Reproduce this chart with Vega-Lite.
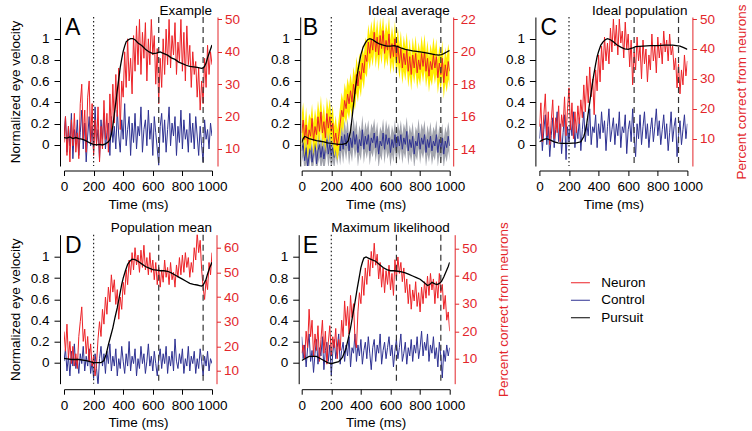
{
"$schema": "https://vega.github.io/schema/vega-lite/v6.json",
"padding": {"left": 8, "top": 3, "right": 0, "bottom": 0},
"config": {
  "font": "Liberation Sans",
  "view": {"stroke": null},
  "axis": {"labelFont": "Liberation Sans", "labelFontSize": 13.5, "titleFont": "Liberation Sans", "titleFontSize": 13.5, "titleFontWeight": "normal", "grid": false, "domainColor": "#000", "tickColor": "#000", "labelColor": "#000", "titleColor": "#000", "labelFlush": false, "labelOverlap": false, "tickCount": 20},
  "axisX": {"tickSize": 5, "labelPadding": 4, "titlePadding": 4, "labelOverlap": false},
  "axisY": {"labelOverlap": false},
  "legend": {"orient": "none", "legendX": 509.7, "legendY": 259, "symbolType": "M-2,0H2", "symbolSize": 90, "symbolStrokeWidth": 1, "labelFont": "Liberation Sans", "labelFontSize": 13.5, "labelColor": "#000", "labelOffset": 14, "rowPadding": 2.5, "padding": 0}
},
"datasets": {
"noisy": [
{"p":"A","t":0,"n":12,"c":14},{"p":"A","t":10,"n":20,"c":20},{"p":"A","t":20,"n":8,"c":9},{"p":"A","t":30,"n":17,"c":17},{"p":"A","t":40,"n":6,"c":11},{"p":"A","t":50,"n":19,"c":21},{"p":"A","t":60,"n":11,"c":7},{"p":"A","t":70,"n":21,"c":16},{"p":"A","t":80,"n":9,"c":12},{"p":"A","t":90,"n":15,"c":19},
{"p":"A","t":100,"n":7,"c":8},{"p":"A","t":110,"n":24,"c":15},{"p":"A","t":120,"n":30,"c":22},{"p":"A","t":130,"n":13,"c":10},{"p":"A","t":140,"n":22,"c":18},{"p":"A","t":150,"n":9,"c":6},{"p":"A","t":160,"n":26,"c":14},{"p":"A","t":170,"n":31,"c":20},{"p":"A","t":180,"n":12,"c":11},{"p":"A","t":190,"n":24,"c":17},
{"p":"A","t":200,"n":8,"c":9},{"p":"A","t":210,"n":19,"c":23},{"p":"A","t":220,"n":11,"c":12},{"p":"A","t":230,"n":23,"c":16},{"p":"A","t":240,"n":6,"c":7},{"p":"A","t":250,"n":17,"c":19},{"p":"A","t":260,"n":10,"c":13},{"p":"A","t":270,"n":25,"c":21},{"p":"A","t":280,"n":13,"c":10},{"p":"A","t":290,"n":21,"c":15},
{"p":"A","t":300,"n":9,"c":18},{"p":"A","t":310,"n":27,"c":8},{"p":"A","t":320,"n":15,"c":20},{"p":"A","t":330,"n":30,"c":12},{"p":"A","t":340,"n":18,"c":17},{"p":"A","t":350,"n":33,"c":10},{"p":"A","t":360,"n":20,"c":22},{"p":"A","t":370,"n":35,"c":14},{"p":"A","t":380,"n":16,"c":9},{"p":"A","t":390,"n":31,"c":19},
{"p":"A","t":400,"n":26,"c":13},{"p":"A","t":410,"n":40,"c":24},{"p":"A","t":420,"n":29,"c":11},{"p":"A","t":430,"n":44,"c":16},{"p":"A","t":440,"n":31,"c":20},{"p":"A","t":450,"n":38,"c":8},{"p":"A","t":460,"n":27,"c":18},{"p":"A","t":470,"n":45,"c":12},{"p":"A","t":480,"n":34,"c":21},{"p":"A","t":490,"n":48,"c":10},
{"p":"A","t":500,"n":36,"c":17},{"p":"A","t":510,"n":50,"c":14},{"p":"A","t":520,"n":33,"c":23},{"p":"A","t":530,"n":46,"c":9},{"p":"A","t":540,"n":38,"c":16},{"p":"A","t":550,"n":49,"c":19},{"p":"A","t":560,"n":31,"c":11},{"p":"A","t":570,"n":44,"c":22},{"p":"A","t":580,"n":36,"c":13},{"p":"A","t":590,"n":50,"c":18},
{"p":"A","t":600,"n":39,"c":8},{"p":"A","t":610,"n":45,"c":20},{"p":"A","t":620,"n":30,"c":15},{"p":"A","t":630,"n":41,"c":10},{"p":"A","t":640,"n":24,"c":5},{"p":"A","t":650,"n":38,"c":17},{"p":"A","t":660,"n":29,"c":21},{"p":"A","t":670,"n":44,"c":12},{"p":"A","t":680,"n":33,"c":19},{"p":"A","t":690,"n":47,"c":9},
{"p":"A","t":700,"n":36,"c":16},{"p":"A","t":710,"n":50,"c":23},{"p":"A","t":720,"n":35,"c":11},{"p":"A","t":730,"n":45,"c":18},{"p":"A","t":740,"n":39,"c":14},{"p":"A","t":750,"n":49,"c":20},{"p":"A","t":760,"n":33,"c":8},{"p":"A","t":770,"n":43,"c":17},{"p":"A","t":780,"n":37,"c":12},{"p":"A","t":790,"n":50,"c":22},
{"p":"A","t":800,"n":34,"c":10},{"p":"A","t":810,"n":46,"c":19},{"p":"A","t":820,"n":31,"c":13},{"p":"A","t":830,"n":48,"c":16},{"p":"A","t":840,"n":36,"c":9},{"p":"A","t":850,"n":42,"c":21},{"p":"A","t":860,"n":29,"c":12},{"p":"A","t":870,"n":40,"c":18},{"p":"A","t":880,"n":33,"c":10},{"p":"A","t":890,"n":37,"c":20},
{"p":"A","t":900,"n":26,"c":14},{"p":"A","t":910,"n":35,"c":8},{"p":"A","t":920,"n":22,"c":17},{"p":"A","t":930,"n":31,"c":11},{"p":"A","t":940,"n":24,"c":6},{"p":"A","t":950,"n":38,"c":19},{"p":"A","t":960,"n":29,"c":13},{"p":"A","t":970,"n":42,"c":16},{"p":"A","t":980,"n":33,"c":10},{"p":"A","t":990,"n":40,"c":18},{"p":"A","t":1000,"n":36,"c":14},

{"p":"B","t":0,"n":15.0,"yl":14.0,"yh":16.1,"c":13.9,"gl":13.1,"gh":14.7},{"p":"B","t":10,"n":15.8,"yl":14.9,"yh":16.9,"c":14.4,"gl":13.6,"gh":15.2},{"p":"B","t":20,"n":14.6,"yl":13.5,"yh":15.5,"c":13.3,"gl":12.4,"gh":14.1},{"p":"B","t":30,"n":15.5,"yl":14.6,"yh":16.6,"c":14.1,"gl":13.2,"gh":14.9},{"p":"B","t":40,"n":14.3,"yl":13.4,"yh":15.3,"c":12.9,"gl":12.0,"gh":13.8},{"p":"B","t":50,"n":15.2,"yl":14.1,"yh":16.2,"c":13.6,"gl":12.8,"gh":14.5},{"p":"B","t":60,"n":14.8,"yl":13.9,"yh":15.9,"c":14.3,"gl":13.5,"gh":15.1},{"p":"B","t":70,"n":15.9,"yl":14.8,"yh":16.8,"c":13.2,"gl":12.3,"gh":14.0},{"p":"B","t":80,"n":14.5,"yl":13.6,"yh":15.6,"c":13.8,"gl":13.0,"gh":14.7},{"p":"B","t":90,"n":15.4,"yl":14.4,"yh":16.5,"c":14.5,"gl":13.7,"gh":15.3},
{"p":"B","t":100,"n":14.9,"yl":13.9,"yh":15.8,"c":13.1,"gl":12.2,"gh":13.9},{"p":"B","t":110,"n":16.0,"yl":15.0,"yh":17.0,"c":13.9,"gl":13.1,"gh":14.8},{"p":"B","t":120,"n":15.1,"yl":14.2,"yh":16.2,"c":14.3,"gl":13.5,"gh":15.2},{"p":"B","t":130,"n":16.3,"yl":15.3,"yh":17.3,"c":13.5,"gl":12.6,"gh":14.3},{"p":"B","t":140,"n":15.0,"yl":14.1,"yh":16.0,"c":14.2,"gl":13.3,"gh":15.0},{"p":"B","t":150,"n":15.7,"yl":14.7,"yh":16.8,"c":13.4,"gl":12.5,"gh":14.3},{"p":"B","t":160,"n":14.7,"yl":13.8,"yh":15.7,"c":14.0,"gl":13.2,"gh":14.9},{"p":"B","t":170,"n":16.2,"yl":15.1,"yh":17.2,"c":14.6,"gl":13.8,"gh":15.4},{"p":"B","t":180,"n":15.3,"yl":14.4,"yh":16.4,"c":13.7,"gl":12.8,"gh":14.5},{"p":"B","t":190,"n":16.0,"yl":15.0,"yh":17.1,"c":14.3,"gl":13.5,"gh":15.2},
{"p":"B","t":200,"n":15.1,"yl":14.1,"yh":16.1,"c":13.6,"gl":12.7,"gh":14.4},{"p":"B","t":210,"n":15.6,"yl":14.6,"yh":16.7,"c":14.1,"gl":13.3,"gh":15.0},{"p":"B","t":220,"n":14.4,"yl":13.5,"yh":15.4,"c":13.5,"gl":12.7,"gh":14.4},{"p":"B","t":230,"n":15.0,"yl":14.0,"yh":16.1,"c":14.4,"gl":13.6,"gh":15.3},{"p":"B","t":240,"n":14.2,"yl":13.3,"yh":15.2,"c":13.8,"gl":13.0,"gh":14.7},{"p":"B","t":250,"n":14.8,"yl":13.8,"yh":15.9,"c":14.6,"gl":13.7,"gh":15.5},{"p":"B","t":260,"n":15.6,"yl":14.6,"yh":16.7,"c":13.9,"gl":13.0,"gh":14.8},{"p":"B","t":270,"n":16.4,"yl":15.4,"yh":17.5,"c":14.8,"gl":13.9,"gh":15.7},{"p":"B","t":280,"n":16.0,"yl":15.0,"yh":17.0,"c":14.0,"gl":13.1,"gh":14.9},{"p":"B","t":290,"n":17.0,"yl":16.0,"yh":18.1,"c":14.9,"gl":14.0,"gh":15.8},
{"p":"B","t":300,"n":16.5,"yl":15.5,"yh":17.6,"c":14.2,"gl":13.3,"gh":15.1},{"p":"B","t":310,"n":17.4,"yl":16.3,"yh":18.4,"c":15.0,"gl":14.1,"gh":15.9},{"p":"B","t":320,"n":16.8,"yl":15.8,"yh":17.9,"c":13.9,"gl":13.0,"gh":14.8},{"p":"B","t":330,"n":17.6,"yl":16.6,"yh":18.7,"c":14.7,"gl":13.8,"gh":15.6},{"p":"B","t":340,"n":16.9,"yl":15.9,"yh":18.0,"c":14.1,"gl":13.2,"gh":15.0},{"p":"B","t":350,"n":18.0,"yl":16.9,"yh":19.1,"c":15.1,"gl":14.2,"gh":16.0},{"p":"B","t":360,"n":17.4,"yl":16.4,"yh":18.5,"c":14.3,"gl":13.4,"gh":15.2},{"p":"B","t":370,"n":18.6,"yl":17.5,"yh":19.7,"c":14.9,"gl":14.0,"gh":15.8},{"p":"B","t":380,"n":17.9,"yl":16.9,"yh":19.0,"c":13.8,"gl":12.9,"gh":14.7},{"p":"B","t":390,"n":18.8,"yl":17.8,"yh":19.9,"c":14.6,"gl":13.7,"gh":15.5},
{"p":"B","t":400,"n":18.3,"yl":17.2,"yh":19.4,"c":14.2,"gl":13.3,"gh":15.1},{"p":"B","t":410,"n":19.3,"yl":18.3,"yh":20.4,"c":15.2,"gl":14.3,"gh":16.1},{"p":"B","t":420,"n":18.7,"yl":17.7,"yh":19.8,"c":14.0,"gl":13.1,"gh":14.9},{"p":"B","t":430,"n":19.8,"yl":18.7,"yh":20.9,"c":14.8,"gl":13.9,"gh":15.7},{"p":"B","t":440,"n":19.4,"yl":18.4,"yh":20.5,"c":14.3,"gl":13.4,"gh":15.2},{"p":"B","t":450,"n":20.6,"yl":19.5,"yh":21.7,"c":14.9,"gl":14.0,"gh":15.8},{"p":"B","t":460,"n":19.9,"yl":18.9,"yh":21.0,"c":13.9,"gl":13.0,"gh":14.8},{"p":"B","t":470,"n":20.8,"yl":19.7,"yh":21.9,"c":14.7,"gl":13.8,"gh":15.6},{"p":"B","t":480,"n":20.1,"yl":19.1,"yh":21.2,"c":14.4,"gl":13.5,"gh":15.3},{"p":"B","t":490,"n":21.2,"yl":20.1,"yh":22.2,"c":15.0,"gl":14.1,"gh":15.9},
{"p":"B","t":500,"n":20.0,"yl":19.0,"yh":21.1,"c":14.1,"gl":13.2,"gh":15.0},{"p":"B","t":510,"n":20.9,"yl":19.8,"yh":22.0,"c":14.8,"gl":13.9,"gh":15.7},{"p":"B","t":520,"n":19.8,"yl":18.8,"yh":20.9,"c":13.7,"gl":12.8,"gh":14.6},{"p":"B","t":530,"n":21.0,"yl":19.9,"yh":22.1,"c":14.5,"gl":13.6,"gh":15.4},{"p":"B","t":540,"n":20.2,"yl":19.2,"yh":21.3,"c":14.2,"gl":13.3,"gh":15.1},{"p":"B","t":550,"n":21.3,"yl":20.2,"yh":22.2,"c":15.0,"gl":14.1,"gh":15.9},{"p":"B","t":560,"n":19.9,"yl":18.9,"yh":21.0,"c":14.0,"gl":13.1,"gh":14.9},{"p":"B","t":570,"n":20.7,"yl":19.6,"yh":21.8,"c":14.9,"gl":14.0,"gh":15.8},{"p":"B","t":580,"n":20.1,"yl":19.1,"yh":21.2,"c":14.3,"gl":13.4,"gh":15.2},{"p":"B","t":590,"n":21.1,"yl":20.0,"yh":22.2,"c":14.7,"gl":13.8,"gh":15.6},
{"p":"B","t":600,"n":19.6,"yl":18.6,"yh":20.7,"c":13.8,"gl":12.9,"gh":14.7},{"p":"B","t":610,"n":20.5,"yl":19.4,"yh":21.6,"c":14.6,"gl":13.7,"gh":15.5},{"p":"B","t":620,"n":19.7,"yl":18.7,"yh":20.8,"c":14.1,"gl":13.2,"gh":15.0},{"p":"B","t":630,"n":20.8,"yl":19.7,"yh":21.9,"c":14.9,"gl":14.0,"gh":15.8},{"p":"B","t":640,"n":19.5,"yl":18.5,"yh":20.6,"c":13.9,"gl":13.0,"gh":14.8},{"p":"B","t":650,"n":20.4,"yl":19.3,"yh":21.5,"c":14.8,"gl":13.9,"gh":15.7},{"p":"B","t":660,"n":19.3,"yl":18.3,"yh":20.4,"c":14.2,"gl":13.3,"gh":15.1},{"p":"B","t":670,"n":20.2,"yl":19.1,"yh":21.3,"c":14.9,"gl":14.0,"gh":15.8},{"p":"B","t":680,"n":19.0,"yl":18.0,"yh":20.1,"c":14.0,"gl":13.1,"gh":14.9},{"p":"B","t":690,"n":19.9,"yl":18.8,"yh":21.0,"c":14.7,"gl":13.8,"gh":15.6},
{"p":"B","t":700,"n":19.2,"yl":18.2,"yh":20.3,"c":14.3,"gl":13.4,"gh":15.2},{"p":"B","t":710,"n":20.1,"yl":19.0,"yh":21.2,"c":15.1,"gl":14.2,"gh":16.0},{"p":"B","t":720,"n":18.8,"yl":17.8,"yh":19.9,"c":13.9,"gl":13.0,"gh":14.8},{"p":"B","t":730,"n":19.7,"yl":18.6,"yh":20.8,"c":14.6,"gl":13.7,"gh":15.5},{"p":"B","t":740,"n":18.6,"yl":17.6,"yh":19.7,"c":14.1,"gl":13.2,"gh":15.0},{"p":"B","t":750,"n":19.8,"yl":18.7,"yh":20.9,"c":14.8,"gl":13.9,"gh":15.7},{"p":"B","t":760,"n":19.0,"yl":18.0,"yh":20.1,"c":13.7,"gl":12.8,"gh":14.6},{"p":"B","t":770,"n":19.9,"yl":18.8,"yh":21.0,"c":14.5,"gl":13.6,"gh":15.4},{"p":"B","t":780,"n":18.7,"yl":17.7,"yh":19.8,"c":14.2,"gl":13.3,"gh":15.1},{"p":"B","t":790,"n":19.5,"yl":18.4,"yh":20.6,"c":15.0,"gl":14.1,"gh":15.9},
{"p":"B","t":800,"n":18.9,"yl":17.9,"yh":20.0,"c":14.0,"gl":13.1,"gh":14.9},{"p":"B","t":810,"n":19.9,"yl":18.8,"yh":21.0,"c":14.7,"gl":13.8,"gh":15.6},{"p":"B","t":820,"n":19.1,"yl":18.1,"yh":20.2,"c":14.3,"gl":13.4,"gh":15.2},{"p":"B","t":830,"n":20.0,"yl":18.9,"yh":21.1,"c":14.9,"gl":14.0,"gh":15.8},{"p":"B","t":840,"n":18.8,"yl":17.8,"yh":19.9,"c":13.8,"gl":12.9,"gh":14.7},{"p":"B","t":850,"n":19.6,"yl":18.5,"yh":20.7,"c":14.6,"gl":13.7,"gh":15.5},{"p":"B","t":860,"n":18.5,"yl":17.5,"yh":19.6,"c":14.1,"gl":13.2,"gh":15.0},{"p":"B","t":870,"n":19.4,"yl":18.3,"yh":20.5,"c":14.8,"gl":13.9,"gh":15.7},{"p":"B","t":880,"n":18.9,"yl":17.9,"yh":20.0,"c":13.9,"gl":13.0,"gh":14.8},{"p":"B","t":890,"n":19.8,"yl":18.7,"yh":20.9,"c":14.5,"gl":13.6,"gh":15.4},
{"p":"B","t":900,"n":19.0,"yl":18.0,"yh":20.1,"c":14.2,"gl":13.3,"gh":15.1},{"p":"B","t":910,"n":19.7,"yl":18.6,"yh":20.8,"c":14.9,"gl":14.0,"gh":15.8},{"p":"B","t":920,"n":18.4,"yl":17.4,"yh":19.5,"c":13.8,"gl":12.9,"gh":14.7},{"p":"B","t":930,"n":19.3,"yl":18.2,"yh":20.4,"c":14.6,"gl":13.7,"gh":15.5},{"p":"B","t":940,"n":18.6,"yl":17.6,"yh":19.7,"c":14.0,"gl":13.1,"gh":14.9},{"p":"B","t":950,"n":19.6,"yl":18.5,"yh":20.7,"c":14.7,"gl":13.8,"gh":15.6},{"p":"B","t":960,"n":18.1,"yl":17.1,"yh":19.2,"c":13.7,"gl":12.8,"gh":14.6},{"p":"B","t":970,"n":19.2,"yl":18.1,"yh":20.3,"c":14.5,"gl":13.6,"gh":15.4},{"p":"B","t":980,"n":18.5,"yl":17.5,"yh":19.6,"c":14.1,"gl":13.2,"gh":15.0},{"p":"B","t":990,"n":19.4,"yl":18.3,"yh":20.5,"c":14.8,"gl":13.9,"gh":15.7},{"p":"B","t":1000,"n":18.8,"yl":17.8,"yh":19.9,"c":14.2,"gl":13.3,"gh":15.1},

{"p":"C","t":0,"n":14,"c":10},{"p":"C","t":10,"n":22,"c":15},{"p":"C","t":20,"n":9,"c":6},{"p":"C","t":30,"n":18,"c":13},{"p":"C","t":40,"n":25,"c":18},{"p":"C","t":50,"n":11,"c":8},{"p":"C","t":60,"n":19,"c":14},{"p":"C","t":70,"n":8,"c":4},{"p":"C","t":80,"n":16,"c":11},{"p":"C","t":90,"n":23,"c":17},
{"p":"C","t":100,"n":10,"c":7},{"p":"C","t":110,"n":17,"c":13},{"p":"C","t":120,"n":12,"c":19},{"p":"C","t":130,"n":21,"c":9},{"p":"C","t":140,"n":9,"c":15},{"p":"C","t":150,"n":18,"c":5},{"p":"C","t":160,"n":14,"c":12},{"p":"C","t":170,"n":24,"c":18},{"p":"C","t":180,"n":11,"c":3},{"p":"C","t":190,"n":20,"c":14},
{"p":"C","t":200,"n":27,"c":9},{"p":"C","t":210,"n":13,"c":16},{"p":"C","t":220,"n":22,"c":11},{"p":"C","t":230,"n":10,"c":19},{"p":"C","t":240,"n":19,"c":7},{"p":"C","t":250,"n":12,"c":14},{"p":"C","t":260,"n":21,"c":10},{"p":"C","t":270,"n":15,"c":17},{"p":"C","t":280,"n":23,"c":6},{"p":"C","t":290,"n":17,"c":13},
{"p":"C","t":300,"n":28,"c":19},{"p":"C","t":310,"n":19,"c":9},{"p":"C","t":320,"n":31,"c":15},{"p":"C","t":330,"n":22,"c":11},{"p":"C","t":340,"n":34,"c":20},{"p":"C","t":350,"n":24,"c":8},{"p":"C","t":360,"n":30,"c":14},{"p":"C","t":370,"n":18,"c":12},{"p":"C","t":380,"n":33,"c":18},{"p":"C","t":390,"n":26,"c":7},
{"p":"C","t":400,"n":38,"c":15},{"p":"C","t":410,"n":29,"c":10},{"p":"C","t":420,"n":41,"c":19},{"p":"C","t":430,"n":33,"c":12},{"p":"C","t":440,"n":44,"c":16},{"p":"C","t":450,"n":36,"c":6},{"p":"C","t":460,"n":42,"c":14},{"p":"C","t":470,"n":35,"c":20},{"p":"C","t":480,"n":47,"c":9},{"p":"C","t":490,"n":39,"c":13},
{"p":"C","t":500,"n":50,"c":17},{"p":"C","t":510,"n":41,"c":8},{"p":"C","t":520,"n":48,"c":15},{"p":"C","t":530,"n":38,"c":11},{"p":"C","t":540,"n":50,"c":19},{"p":"C","t":550,"n":42,"c":7},{"p":"C","t":560,"n":46,"c":14},{"p":"C","t":570,"n":37,"c":12},{"p":"C","t":580,"n":49,"c":18},{"p":"C","t":590,"n":40,"c":5},
{"p":"C","t":600,"n":45,"c":13},{"p":"C","t":610,"n":34,"c":16},{"p":"C","t":620,"n":43,"c":9},{"p":"C","t":630,"n":28,"c":20},{"p":"C","t":640,"n":39,"c":11},{"p":"C","t":650,"n":33,"c":4},{"p":"C","t":660,"n":44,"c":15},{"p":"C","t":670,"n":36,"c":10},{"p":"C","t":680,"n":41,"c":18},{"p":"C","t":690,"n":30,"c":8},
{"p":"C","t":700,"n":43,"c":14},{"p":"C","t":710,"n":35,"c":19},{"p":"C","t":720,"n":40,"c":10},{"p":"C","t":730,"n":29,"c":15},{"p":"C","t":740,"n":38,"c":7},{"p":"C","t":750,"n":33,"c":13},{"p":"C","t":760,"n":45,"c":17},{"p":"C","t":770,"n":36,"c":9},{"p":"C","t":780,"n":41,"c":14},{"p":"C","t":790,"n":32,"c":20},
{"p":"C","t":800,"n":44,"c":11},{"p":"C","t":810,"n":37,"c":16},{"p":"C","t":820,"n":42,"c":8},{"p":"C","t":830,"n":35,"c":13},{"p":"C","t":840,"n":46,"c":18},{"p":"C","t":850,"n":39,"c":10},{"p":"C","t":860,"n":43,"c":15},{"p":"C","t":870,"n":36,"c":6},{"p":"C","t":880,"n":45,"c":12},{"p":"C","t":890,"n":38,"c":19},
{"p":"C","t":900,"n":41,"c":9},{"p":"C","t":910,"n":33,"c":14},{"p":"C","t":920,"n":37,"c":17},{"p":"C","t":930,"n":27,"c":4},{"p":"C","t":940,"n":35,"c":11},{"p":"C","t":950,"n":25,"c":16},{"p":"C","t":960,"n":33,"c":8},{"p":"C","t":970,"n":28,"c":13},{"p":"C","t":980,"n":38,"c":18},{"p":"C","t":990,"n":31,"c":10},{"p":"C","t":1000,"n":36,"c":15},

{"p":"D","t":0,"n":26,"c":14},{"p":"D","t":10,"n":18,"c":19},{"p":"D","t":20,"n":29,"c":10},{"p":"D","t":30,"n":15,"c":16},{"p":"D","t":40,"n":22,"c":8},{"p":"D","t":50,"n":13,"c":18},{"p":"D","t":60,"n":20,"c":12},{"p":"D","t":70,"n":12,"c":21},{"p":"D","t":80,"n":17,"c":11},{"p":"D","t":90,"n":11,"c":15},
{"p":"D","t":100,"n":24,"c":9},{"p":"D","t":110,"n":30,"c":17},{"p":"D","t":120,"n":36,"c":13},{"p":"D","t":130,"n":22,"c":20},{"p":"D","t":140,"n":27,"c":10},{"p":"D","t":150,"n":17,"c":16},{"p":"D","t":160,"n":24,"c":12},{"p":"D","t":170,"n":14,"c":19},{"p":"D","t":180,"n":21,"c":9},{"p":"D","t":190,"n":12,"c":14},
{"p":"D","t":200,"n":16,"c":7},{"p":"D","t":210,"n":8,"c":17},{"p":"D","t":220,"n":13,"c":11},{"p":"D","t":230,"n":23,"c":4},{"p":"D","t":240,"n":30,"c":15},{"p":"D","t":250,"n":24,"c":20},{"p":"D","t":260,"n":35,"c":12},{"p":"D","t":270,"n":29,"c":17},{"p":"D","t":280,"n":40,"c":9},{"p":"D","t":290,"n":33,"c":18},
{"p":"D","t":300,"n":44,"c":13},{"p":"D","t":310,"n":38,"c":21},{"p":"D","t":320,"n":49,"c":10},{"p":"D","t":330,"n":42,"c":16},{"p":"D","t":340,"n":47,"c":12},{"p":"D","t":350,"n":37,"c":19},{"p":"D","t":360,"n":43,"c":8},{"p":"D","t":370,"n":31,"c":15},{"p":"D","t":380,"n":40,"c":11},{"p":"D","t":390,"n":35,"c":20},
{"p":"D","t":400,"n":46,"c":14},{"p":"D","t":410,"n":41,"c":9},{"p":"D","t":420,"n":51,"c":17},{"p":"D","t":430,"n":45,"c":12},{"p":"D","t":440,"n":55,"c":22},{"p":"D","t":450,"n":49,"c":10},{"p":"D","t":460,"n":58,"c":16},{"p":"D","t":470,"n":51,"c":13},{"p":"D","t":480,"n":60,"c":19},{"p":"D","t":490,"n":53,"c":8},
{"p":"D","t":500,"n":57,"c":15},{"p":"D","t":510,"n":50,"c":11},{"p":"D","t":520,"n":59,"c":20},{"p":"D","t":530,"n":52,"c":13},{"p":"D","t":540,"n":61,"c":17},{"p":"D","t":550,"n":51,"c":9},{"p":"D","t":560,"n":56,"c":14},{"p":"D","t":570,"n":49,"c":21},{"p":"D","t":580,"n":58,"c":12},{"p":"D","t":590,"n":50,"c":16},
{"p":"D","t":600,"n":55,"c":10},{"p":"D","t":610,"n":47,"c":18},{"p":"D","t":620,"n":54,"c":13},{"p":"D","t":630,"n":45,"c":8},{"p":"D","t":640,"n":52,"c":15},{"p":"D","t":650,"n":44,"c":19},{"p":"D","t":660,"n":51,"c":11},{"p":"D","t":670,"n":46,"c":17},{"p":"D","t":680,"n":55,"c":13},{"p":"D","t":690,"n":48,"c":20},
{"p":"D","t":700,"n":52,"c":9},{"p":"D","t":710,"n":45,"c":16},{"p":"D","t":720,"n":54,"c":12},{"p":"D","t":730,"n":47,"c":18},{"p":"D","t":740,"n":50,"c":10},{"p":"D","t":750,"n":44,"c":23},{"p":"D","t":760,"n":53,"c":14},{"p":"D","t":770,"n":48,"c":11},{"p":"D","t":780,"n":56,"c":17},{"p":"D","t":790,"n":49,"c":13},
{"p":"D","t":800,"n":57,"c":19},{"p":"D","t":810,"n":50,"c":9},{"p":"D","t":820,"n":58,"c":15},{"p":"D","t":830,"n":52,"c":12},{"p":"D","t":840,"n":56,"c":20},{"p":"D","t":850,"n":48,"c":10},{"p":"D","t":860,"n":54,"c":16},{"p":"D","t":870,"n":50,"c":13},{"p":"D","t":880,"n":60,"c":18},{"p":"D","t":890,"n":55,"c":9},
{"p":"D","t":900,"n":66,"c":15},{"p":"D","t":910,"n":58,"c":11},{"p":"D","t":920,"n":63,"c":19},{"p":"D","t":930,"n":51,"c":14},{"p":"D","t":940,"n":44,"c":8},{"p":"D","t":950,"n":39,"c":16},{"p":"D","t":960,"n":47,"c":12},{"p":"D","t":970,"n":43,"c":18},{"p":"D","t":980,"n":54,"c":10},{"p":"D","t":990,"n":49,"c":15},{"p":"D","t":1000,"n":58,"c":13},

{"p":"E","t":0,"n":12,"c":18},{"p":"E","t":10,"n":15,"c":10},{"p":"E","t":20,"n":10,"c":15},{"p":"E","t":30,"n":20,"c":7},{"p":"E","t":40,"n":14,"c":14},{"p":"E","t":50,"n":28,"c":19},{"p":"E","t":60,"n":18,"c":9},{"p":"E","t":70,"n":24,"c":13},{"p":"E","t":80,"n":11,"c":5},{"p":"E","t":90,"n":19,"c":12},
{"p":"E","t":100,"n":13,"c":17},{"p":"E","t":110,"n":22,"c":8},{"p":"E","t":120,"n":9,"c":14},{"p":"E","t":130,"n":17,"c":11},{"p":"E","t":140,"n":24,"c":18},{"p":"E","t":150,"n":12,"c":6},{"p":"E","t":160,"n":20,"c":13},{"p":"E","t":170,"n":8,"c":16},{"p":"E","t":180,"n":16,"c":9},{"p":"E","t":190,"n":22,"c":15},
{"p":"E","t":200,"n":11,"c":4},{"p":"E","t":210,"n":18,"c":12},{"p":"E","t":220,"n":14,"c":17},{"p":"E","t":230,"n":21,"c":10},{"p":"E","t":240,"n":10,"c":14},{"p":"E","t":250,"n":17,"c":19},{"p":"E","t":260,"n":13,"c":8},{"p":"E","t":270,"n":24,"c":13},{"p":"E","t":280,"n":18,"c":16},{"p":"E","t":290,"n":31,"c":9},
{"p":"E","t":300,"n":22,"c":15},{"p":"E","t":310,"n":29,"c":11},{"p":"E","t":320,"n":19,"c":18},{"p":"E","t":330,"n":33,"c":7},{"p":"E","t":340,"n":25,"c":14},{"p":"E","t":350,"n":30,"c":12},{"p":"E","t":360,"n":17,"c":19},{"p":"E","t":370,"n":14,"c":9},{"p":"E","t":380,"n":27,"c":15},{"p":"E","t":390,"n":34,"c":11},
{"p":"E","t":400,"n":30,"c":17},{"p":"E","t":410,"n":40,"c":8},{"p":"E","t":420,"n":33,"c":13},{"p":"E","t":430,"n":43,"c":16},{"p":"E","t":440,"n":37,"c":10},{"p":"E","t":450,"n":46,"c":18},{"p":"E","t":460,"n":40,"c":12},{"p":"E","t":470,"n":49,"c":6},{"p":"E","t":480,"n":43,"c":14},{"p":"E","t":490,"n":52,"c":17},
{"p":"E","t":500,"n":44,"c":9},{"p":"E","t":510,"n":48,"c":15},{"p":"E","t":520,"n":39,"c":12},{"p":"E","t":530,"n":45,"c":19},{"p":"E","t":540,"n":36,"c":8},{"p":"E","t":550,"n":43,"c":13},{"p":"E","t":560,"n":34,"c":16},{"p":"E","t":570,"n":42,"c":10},{"p":"E","t":580,"n":37,"c":14},{"p":"E","t":590,"n":44,"c":18},
{"p":"E","t":600,"n":35,"c":11},{"p":"E","t":610,"n":41,"c":15},{"p":"E","t":620,"n":33,"c":7},{"p":"E","t":630,"n":46,"c":13},{"p":"E","t":640,"n":39,"c":17},{"p":"E","t":650,"n":47,"c":10},{"p":"E","t":660,"n":41,"c":14},{"p":"E","t":670,"n":45,"c":19},{"p":"E","t":680,"n":38,"c":9},{"p":"E","t":690,"n":43,"c":12},
{"p":"E","t":700,"n":34,"c":16},{"p":"E","t":710,"n":39,"c":8},{"p":"E","t":720,"n":30,"c":14},{"p":"E","t":730,"n":37,"c":11},{"p":"E","t":740,"n":28,"c":17},{"p":"E","t":750,"n":35,"c":9},{"p":"E","t":760,"n":31,"c":15},{"p":"E","t":770,"n":38,"c":12},{"p":"E","t":780,"n":29,"c":18},{"p":"E","t":790,"n":34,"c":10},
{"p":"E","t":800,"n":27,"c":14},{"p":"E","t":810,"n":36,"c":20},{"p":"E","t":820,"n":30,"c":11},{"p":"E","t":830,"n":38,"c":16},{"p":"E","t":840,"n":32,"c":13},{"p":"E","t":850,"n":40,"c":19},{"p":"E","t":860,"n":33,"c":9},{"p":"E","t":870,"n":41,"c":15},{"p":"E","t":880,"n":35,"c":12},{"p":"E","t":890,"n":39,"c":18},
{"p":"E","t":900,"n":30,"c":10},{"p":"E","t":910,"n":38,"c":14},{"p":"E","t":920,"n":32,"c":7},{"p":"E","t":930,"n":41,"c":16},{"p":"E","t":940,"n":34,"c":11},{"p":"E","t":950,"n":37,"c":3},{"p":"E","t":960,"n":28,"c":13},{"p":"E","t":970,"n":33,"c":9},{"p":"E","t":980,"n":24,"c":15},{"p":"E","t":990,"n":27,"c":11},{"p":"E","t":1000,"n":20,"c":14}
],
"pursuit": [
{"p":"A","t":0,"k":0.07},{"p":"A","t":20,"k":0.065},{"p":"A","t":40,"k":0.075},{"p":"A","t":60,"k":0.06},{"p":"A","t":80,"k":0.07},{"p":"A","t":100,"k":0.06},{"p":"A","t":120,"k":0.055},{"p":"A","t":140,"k":0.045},{"p":"A","t":160,"k":0.03},{"p":"A","t":180,"k":0.015},{"p":"A","t":200,"k":0.005},{"p":"A","t":220,"k":0.0},{"p":"A","t":240,"k":0.005},{"p":"A","t":260,"k":0.0},{"p":"A","t":280,"k":0.01},{"p":"A","t":300,"k":0.03},{"p":"A","t":310,"k":0.05},{"p":"A","t":320,"k":0.1},{"p":"A","t":330,"k":0.18},{"p":"A","t":340,"k":0.29},{"p":"A","t":350,"k":0.4},{"p":"A","t":360,"k":0.51},{"p":"A","t":370,"k":0.62},{"p":"A","t":380,"k":0.73},{"p":"A","t":390,"k":0.81},{"p":"A","t":400,"k":0.88},{"p":"A","t":410,"k":0.93},{"p":"A","t":420,"k":0.97},{"p":"A","t":435,"k":0.99},{"p":"A","t":450,"k":1.0},{"p":"A","t":465,"k":1.0},{"p":"A","t":480,"k":0.99},{"p":"A","t":500,"k":0.96},{"p":"A","t":525,"k":0.935},{"p":"A","t":550,"k":0.9},{"p":"A","t":575,"k":0.875},{"p":"A","t":600,"k":0.86},{"p":"A","t":625,"k":0.865},{"p":"A","t":650,"k":0.875},{"p":"A","t":675,"k":0.86},{"p":"A","t":700,"k":0.845},{"p":"A","t":725,"k":0.82},{"p":"A","t":750,"k":0.805},{"p":"A","t":775,"k":0.78},{"p":"A","t":800,"k":0.765},{"p":"A","t":825,"k":0.75},{"p":"A","t":850,"k":0.74},{"p":"A","t":875,"k":0.735},{"p":"A","t":900,"k":0.73},{"p":"A","t":915,"k":0.725},{"p":"A","t":930,"k":0.72},{"p":"A","t":940,"k":0.725},{"p":"A","t":950,"k":0.74},{"p":"A","t":960,"k":0.77},{"p":"A","t":970,"k":0.82},{"p":"A","t":980,"k":0.86},{"p":"A","t":990,"k":0.9},{"p":"A","t":1000,"k":0.94},
{"p":"B","t":0,"k":0.02},{"p":"B","t":10,"k":0.06},{"p":"B","t":20,"k":0.08},{"p":"B","t":30,"k":0.075},{"p":"B","t":50,"k":0.06},{"p":"B","t":75,"k":0.05},{"p":"B","t":100,"k":0.04},{"p":"B","t":125,"k":0.035},{"p":"B","t":150,"k":0.03},{"p":"B","t":175,"k":0.02},{"p":"B","t":200,"k":0.015},{"p":"B","t":225,"k":0.01},{"p":"B","t":250,"k":0.005},{"p":"B","t":275,"k":0.005},{"p":"B","t":300,"k":0.015},{"p":"B","t":315,"k":0.04},{"p":"B","t":330,"k":0.13},{"p":"B","t":340,"k":0.25},{"p":"B","t":350,"k":0.38},{"p":"B","t":360,"k":0.5},{"p":"B","t":370,"k":0.6},{"p":"B","t":380,"k":0.7},{"p":"B","t":390,"k":0.78},{"p":"B","t":400,"k":0.85},{"p":"B","t":415,"k":0.92},{"p":"B","t":430,"k":0.96},{"p":"B","t":445,"k":0.99},{"p":"B","t":460,"k":1.0},{"p":"B","t":480,"k":0.99},{"p":"B","t":500,"k":0.97},{"p":"B","t":525,"k":0.95},{"p":"B","t":550,"k":0.94},{"p":"B","t":575,"k":0.93},{"p":"B","t":600,"k":0.93},{"p":"B","t":625,"k":0.935},{"p":"B","t":650,"k":0.925},{"p":"B","t":675,"k":0.91},{"p":"B","t":700,"k":0.9},{"p":"B","t":750,"k":0.885},{"p":"B","t":800,"k":0.875},{"p":"B","t":850,"k":0.865},{"p":"B","t":900,"k":0.85},{"p":"B","t":925,"k":0.845},{"p":"B","t":945,"k":0.85},{"p":"B","t":960,"k":0.86},{"p":"B","t":980,"k":0.875},{"p":"B","t":1000,"k":0.89},
{"p":"C","t":0,"k":0.03},{"p":"C","t":25,"k":0.05},{"p":"C","t":50,"k":0.06},{"p":"C","t":75,"k":0.045},{"p":"C","t":100,"k":0.03},{"p":"C","t":125,"k":0.02},{"p":"C","t":150,"k":0.015},{"p":"C","t":200,"k":0.015},{"p":"C","t":250,"k":0.02},{"p":"C","t":280,"k":0.03},{"p":"C","t":300,"k":0.08},{"p":"C","t":310,"k":0.13},{"p":"C","t":320,"k":0.2},{"p":"C","t":335,"k":0.35},{"p":"C","t":350,"k":0.5},{"p":"C","t":365,"k":0.64},{"p":"C","t":380,"k":0.76},{"p":"C","t":390,"k":0.83},{"p":"C","t":400,"k":0.88},{"p":"C","t":415,"k":0.94},{"p":"C","t":430,"k":0.97},{"p":"C","t":445,"k":0.99},{"p":"C","t":460,"k":1.0},{"p":"C","t":480,"k":0.99},{"p":"C","t":500,"k":0.97},{"p":"C","t":525,"k":0.94},{"p":"C","t":550,"k":0.92},{"p":"C","t":575,"k":0.905},{"p":"C","t":600,"k":0.9},{"p":"C","t":625,"k":0.91},{"p":"C","t":650,"k":0.925},{"p":"C","t":700,"k":0.93},{"p":"C","t":750,"k":0.935},{"p":"C","t":800,"k":0.935},{"p":"C","t":850,"k":0.94},{"p":"C","t":900,"k":0.94},{"p":"C","t":925,"k":0.935},{"p":"C","t":950,"k":0.93},{"p":"C","t":975,"k":0.915},{"p":"C","t":1000,"k":0.9},
{"p":"D","t":0,"k":0.04},{"p":"D","t":50,"k":0.03},{"p":"D","t":100,"k":0.03},{"p":"D","t":150,"k":0.02},{"p":"D","t":200,"k":0.0},{"p":"D","t":250,"k":0.0},{"p":"D","t":270,"k":0.02},{"p":"D","t":285,"k":0.08},{"p":"D","t":300,"k":0.17},{"p":"D","t":315,"k":0.25},{"p":"D","t":330,"k":0.33},{"p":"D","t":345,"k":0.43},{"p":"D","t":360,"k":0.52},{"p":"D","t":375,"k":0.63},{"p":"D","t":390,"k":0.74},{"p":"D","t":400,"k":0.8},{"p":"D","t":415,"k":0.87},{"p":"D","t":430,"k":0.93},{"p":"D","t":445,"k":0.96},{"p":"D","t":460,"k":0.98},{"p":"D","t":480,"k":0.975},{"p":"D","t":500,"k":0.96},{"p":"D","t":525,"k":0.935},{"p":"D","t":550,"k":0.91},{"p":"D","t":575,"k":0.895},{"p":"D","t":600,"k":0.88},{"p":"D","t":625,"k":0.875},{"p":"D","t":650,"k":0.87},{"p":"D","t":675,"k":0.87},{"p":"D","t":700,"k":0.865},{"p":"D","t":725,"k":0.85},{"p":"D","t":750,"k":0.83},{"p":"D","t":775,"k":0.81},{"p":"D","t":800,"k":0.79},{"p":"D","t":825,"k":0.77},{"p":"D","t":850,"k":0.75},{"p":"D","t":875,"k":0.74},{"p":"D","t":900,"k":0.735},{"p":"D","t":915,"k":0.73},{"p":"D","t":930,"k":0.725},{"p":"D","t":940,"k":0.735},{"p":"D","t":950,"k":0.76},{"p":"D","t":960,"k":0.79},{"p":"D","t":970,"k":0.84},{"p":"D","t":985,"k":0.9},{"p":"D","t":1000,"k":0.95},
{"p":"E","t":0,"k":0.02},{"p":"E","t":25,"k":0.04},{"p":"E","t":50,"k":0.06},{"p":"E","t":75,"k":0.06},{"p":"E","t":100,"k":0.06},{"p":"E","t":125,"k":0.04},{"p":"E","t":150,"k":0.02},{"p":"E","t":175,"k":0.0},{"p":"E","t":200,"k":-0.01},{"p":"E","t":225,"k":0.0},{"p":"E","t":250,"k":0.01},{"p":"E","t":275,"k":0.05},{"p":"E","t":290,"k":0.1},{"p":"E","t":300,"k":0.14},{"p":"E","t":315,"k":0.23},{"p":"E","t":330,"k":0.33},{"p":"E","t":345,"k":0.45},{"p":"E","t":360,"k":0.57},{"p":"E","t":375,"k":0.7},{"p":"E","t":390,"k":0.82},{"p":"E","t":400,"k":0.9},{"p":"E","t":410,"k":0.95},{"p":"E","t":420,"k":0.99},{"p":"E","t":435,"k":1.0},{"p":"E","t":450,"k":0.99},{"p":"E","t":465,"k":0.98},{"p":"E","t":480,"k":0.97},{"p":"E","t":500,"k":0.96},{"p":"E","t":525,"k":0.93},{"p":"E","t":550,"k":0.9},{"p":"E","t":575,"k":0.88},{"p":"E","t":600,"k":0.87},{"p":"E","t":625,"k":0.87},{"p":"E","t":650,"k":0.865},{"p":"E","t":675,"k":0.86},{"p":"E","t":700,"k":0.85},{"p":"E","t":725,"k":0.835},{"p":"E","t":750,"k":0.82},{"p":"E","t":775,"k":0.805},{"p":"E","t":800,"k":0.79},{"p":"E","t":825,"k":0.76},{"p":"E","t":850,"k":0.73},{"p":"E","t":865,"k":0.74},{"p":"E","t":880,"k":0.76},{"p":"E","t":900,"k":0.745},{"p":"E","t":915,"k":0.74},{"p":"E","t":930,"k":0.75},{"p":"E","t":945,"k":0.77},{"p":"E","t":960,"k":0.81},{"p":"E","t":975,"k":0.86},{"p":"E","t":990,"k":0.91},{"p":"E","t":1000,"k":0.95}
]
},
"columns": 3,
"spacing": {"row": 68.7, "column": 89.7},
"bounds": "flush",
"concat": [
{
 "width": 148, "height": 149,
 "layer": [
  {"data": {"name": "noisy"}, "transform": [{"filter": {"field": "p", "equal": "A"}}],
   "layer": [
    {"mark": {"type": "line", "strokeWidth": 1, "clip": true},
     "encoding": {"x": {"field": "t", "type": "quantitative", "scale": {"domain": [0, 1000], "nice": false, "zero": false}, "axis": {"values": [0, 200, 400, 600, 800, 1000], "format": "d", "tickCount": 20, "title": "Time (ms)", "offset": 4.5, "labelOverlap": false}},
      "y": {"field": "c", "type": "quantitative", "scale": {"domain": [4.75, 50.74], "nice": false, "zero": false}, "axis": {"orient": "right", "offset": 5.5, "values": [10, 20, 30, 40, 50], "format": "d", "tickCount": 20, "labelOverlap": false, "title": null, "tickSize": 4, "labelPadding": 3, "domainColor": "#e3262b", "tickColor": "#e3262b", "labelColor": "#e3262b"}},
      "color": {"datum": "Control", "scale": {"domain": ["Neuron", "Control", "Pursuit"], "range": ["#ec2227", "#2e3192", "#000000"]}, "legend": {"title": null}}}},
    {"mark": {"type": "line", "strokeWidth": 1, "clip": true},
     "encoding": {"x": {"field": "t", "type": "quantitative"}, "y": {"field": "n", "type": "quantitative"},
      "color": {"datum": "Neuron", "scale": {"domain": ["Neuron", "Control", "Pursuit"], "range": ["#ec2227", "#2e3192", "#000000"]}, "legend": {"title": null}}}}
   ]},
  {"layer": [
    {"data": {"values": [{}]}, "mark": {"type": "rule", "strokeDash": [1.5, 2.5], "strokeWidth": 1.2, "color": "#222"}, "encoding": {"x": {"datum": 200, "type": "quantitative"}}},
    {"data": {"values": [{}]}, "mark": {"type": "rule", "strokeDash": [6, 4], "strokeWidth": 1.2, "color": "#333"}, "encoding": {"x": {"datum": 640, "type": "quantitative"}}},
    {"data": {"values": [{}]}, "mark": {"type": "rule", "strokeDash": [6, 4], "strokeWidth": 1.2, "color": "#333"}, "encoding": {"x": {"datum": 940, "type": "quantitative"}}},
    {"data": {"name": "pursuit"}, "transform": [{"filter": {"field": "p", "equal": "A"}}],
     "mark": {"type": "line", "strokeWidth": 1.3, "clip": true},
     "encoding": {"x": {"field": "t", "type": "quantitative"},
      "y": {"field": "k", "type": "quantitative", "scale": {"domain": [-0.198, 1.204], "nice": false, "zero": false}, "axis": {"orient": "left", "offset": 4, "values": [0, 0.2, 0.4, 0.6, 0.8, 1], "tickCount": 20, "labelOverlap": false, "format": ".1~f", "title": "Normalized eye velocity", "titlePadding": 8, "tickSize": 6, "labelPadding": 5}},
      "color": {"datum": "Pursuit", "scale": {"domain": ["Neuron", "Control", "Pursuit"], "range": ["#ec2227", "#2e3192", "#000000"]}, "legend": {"title": null}}}},
    {"data": {"values": [{}]}, "mark": {"type": "text", "text": "A", "fontSize": 23, "align": "left", "baseline": "alphabetic", "dx": 1, "dy": 17.5, "color": "#000"}, "encoding": {"x": {"datum": 0, "type": "quantitative"}, "y": {"datum": 1.204, "type": "quantitative"}}},
    {"data": {"values": [{}]}, "mark": {"type": "text", "text": "Example", "fontSize": 13.5, "align": "right", "baseline": "alphabetic", "dy": -2.5, "color": "#000"}, "encoding": {"x": {"datum": 1000, "type": "quantitative"}, "y": {"datum": 1.204, "type": "quantitative"}}}
  ]}
 ],
 "resolve": {"scale": {"y": "independent"}}
},
{
 "width": 148, "height": 149,
 "layer": [
  {"data": {"name": "noisy"}, "transform": [{"filter": {"field": "p", "equal": "B"}}],
   "layer": [
    {"mark": {"type": "area", "color": "#a2a4ad", "clip": true},
     "encoding": {"x": {"field": "t", "type": "quantitative", "scale": {"domain": [0, 1000], "nice": false, "zero": false}, "axis": {"values": [0, 200, 400, 600, 800, 1000], "format": "d", "tickCount": 20, "title": "Time (ms)", "offset": 4.5, "labelOverlap": false}},
      "y": {"field": "gl", "type": "quantitative", "scale": {"domain": [12.97, 22.14], "nice": false, "zero": false}, "axis": {"orient": "right", "offset": 3.5, "values": [14, 16, 18, 20, 22], "format": "d", "tickCount": 20, "labelOverlap": false, "title": null, "tickSize": 4, "labelPadding": 3, "domainColor": "#e3262b", "tickColor": "#e3262b", "labelColor": "#e3262b"}},
      "y2": {"field": "gh"}}},
    {"mark": {"type": "line", "strokeWidth": 1, "clip": true},
     "encoding": {"x": {"field": "t", "type": "quantitative"}, "y": {"field": "c", "type": "quantitative"},
      "color": {"datum": "Control", "scale": {"domain": ["Neuron", "Control", "Pursuit"], "range": ["#ec2227", "#2e3192", "#000000"]}, "legend": {"title": null}}}},
    {"mark": {"type": "area", "color": "#ffec00", "clip": true},
     "encoding": {"x": {"field": "t", "type": "quantitative"}, "y": {"field": "yl", "type": "quantitative"}, "y2": {"field": "yh"}}},
    {"mark": {"type": "line", "strokeWidth": 1, "clip": true},
     "encoding": {"x": {"field": "t", "type": "quantitative"}, "y": {"field": "n", "type": "quantitative"},
      "color": {"datum": "Neuron", "scale": {"domain": ["Neuron", "Control", "Pursuit"], "range": ["#ec2227", "#2e3192", "#000000"]}, "legend": {"title": null}}}}
   ]},
  {"layer": [
    {"data": {"values": [{}]}, "mark": {"type": "rule", "strokeDash": [1.5, 2.5], "strokeWidth": 1.2, "color": "#222"}, "encoding": {"x": {"datum": 200, "type": "quantitative"}}},
    {"data": {"values": [{}]}, "mark": {"type": "rule", "strokeDash": [6, 4], "strokeWidth": 1.2, "color": "#333"}, "encoding": {"x": {"datum": 640, "type": "quantitative"}}},
    {"data": {"values": [{}]}, "mark": {"type": "rule", "strokeDash": [6, 4], "strokeWidth": 1.2, "color": "#333"}, "encoding": {"x": {"datum": 940, "type": "quantitative"}}},
    {"data": {"name": "pursuit"}, "transform": [{"filter": {"field": "p", "equal": "B"}}],
     "mark": {"type": "line", "strokeWidth": 1.3, "clip": true},
     "encoding": {"x": {"field": "t", "type": "quantitative"},
      "y": {"field": "k", "type": "quantitative", "scale": {"domain": [-0.198, 1.204], "nice": false, "zero": false}, "axis": {"orient": "left", "offset": 1.5, "values": [0, 0.2, 0.4, 0.6, 0.8, 1], "tickCount": 20, "labelOverlap": false, "format": ".1~f", "title": null, "tickSize": 6, "labelPadding": 5}},
      "color": {"datum": "Pursuit", "scale": {"domain": ["Neuron", "Control", "Pursuit"], "range": ["#ec2227", "#2e3192", "#000000"]}, "legend": {"title": null}}}},
    {"data": {"values": [{}]}, "mark": {"type": "text", "text": "B", "fontSize": 23, "align": "left", "baseline": "alphabetic", "dx": 1, "dy": 17.5, "color": "#000"}, "encoding": {"x": {"datum": 0, "type": "quantitative"}, "y": {"datum": 1.204, "type": "quantitative"}}},
    {"data": {"values": [{}]}, "mark": {"type": "text", "text": "Ideal average", "fontSize": 13.5, "align": "right", "baseline": "alphabetic", "dy": -2.5, "color": "#000"}, "encoding": {"x": {"datum": 1000, "type": "quantitative"}, "y": {"datum": 1.204, "type": "quantitative"}}}
  ]}
 ],
 "resolve": {"scale": {"y": "independent"}}
},
{
 "width": 148, "height": 149,
 "layer": [
  {"data": {"name": "noisy"}, "transform": [{"filter": {"field": "p", "equal": "C"}}],
   "layer": [
    {"mark": {"type": "line", "strokeWidth": 1, "clip": true},
     "encoding": {"x": {"field": "t", "type": "quantitative", "scale": {"domain": [0, 1000], "nice": false, "zero": false}, "axis": {"values": [0, 200, 400, 600, 800, 1000], "format": "d", "tickCount": 20, "title": "Time (ms)", "offset": 4.5, "labelOverlap": false}},
      "y": {"field": "c", "type": "quantitative", "scale": {"domain": [0.87, 50.7], "nice": false, "zero": false}, "axis": {"orient": "right", "offset": 5, "values": [10, 20, 30, 40, 50], "format": "d", "tickCount": 20, "labelOverlap": false, "title": "Percent correct from neurons", "titleColor": "#e3262b", "titleAngle": 270, "titleBaseline": "top", "titlePadding": 20, "tickSize": 4, "labelPadding": 3, "domainColor": "#e3262b", "tickColor": "#e3262b", "labelColor": "#e3262b"}},
      "color": {"datum": "Control", "scale": {"domain": ["Neuron", "Control", "Pursuit"], "range": ["#ec2227", "#2e3192", "#000000"]}, "legend": {"title": null}}}},
    {"mark": {"type": "line", "strokeWidth": 1, "clip": true},
     "encoding": {"x": {"field": "t", "type": "quantitative"}, "y": {"field": "n", "type": "quantitative"},
      "color": {"datum": "Neuron", "scale": {"domain": ["Neuron", "Control", "Pursuit"], "range": ["#ec2227", "#2e3192", "#000000"]}, "legend": {"title": null}}}}
   ]},
  {"layer": [
    {"data": {"values": [{}]}, "mark": {"type": "rule", "strokeDash": [1.5, 2.5], "strokeWidth": 1.2, "color": "#222"}, "encoding": {"x": {"datum": 200, "type": "quantitative"}}},
    {"data": {"values": [{}]}, "mark": {"type": "rule", "strokeDash": [6, 4], "strokeWidth": 1.2, "color": "#333"}, "encoding": {"x": {"datum": 640, "type": "quantitative"}}},
    {"data": {"values": [{}]}, "mark": {"type": "rule", "strokeDash": [6, 4], "strokeWidth": 1.2, "color": "#333"}, "encoding": {"x": {"datum": 940, "type": "quantitative"}}},
    {"data": {"name": "pursuit"}, "transform": [{"filter": {"field": "p", "equal": "C"}}],
     "mark": {"type": "line", "strokeWidth": 1.3, "clip": true},
     "encoding": {"x": {"field": "t", "type": "quantitative"},
      "y": {"field": "k", "type": "quantitative", "scale": {"domain": [-0.198, 1.204], "nice": false, "zero": false}, "axis": {"orient": "left", "offset": 4, "values": [0, 0.2, 0.4, 0.6, 0.8, 1], "tickCount": 20, "labelOverlap": false, "format": ".1~f", "title": null, "tickSize": 6, "labelPadding": 5}},
      "color": {"datum": "Pursuit", "scale": {"domain": ["Neuron", "Control", "Pursuit"], "range": ["#ec2227", "#2e3192", "#000000"]}, "legend": {"title": null}}}},
    {"data": {"values": [{}]}, "mark": {"type": "text", "text": "C", "fontSize": 23, "align": "left", "baseline": "alphabetic", "dx": 1, "dy": 17.5, "color": "#000"}, "encoding": {"x": {"datum": 0, "type": "quantitative"}, "y": {"datum": 1.204, "type": "quantitative"}}},
    {"data": {"values": [{}]}, "mark": {"type": "text", "text": "Ideal population", "fontSize": 13.5, "align": "right", "baseline": "alphabetic", "dy": -2.5, "color": "#000"}, "encoding": {"x": {"datum": 1000, "type": "quantitative"}, "y": {"datum": 1.204, "type": "quantitative"}}}
  ]}
 ],
 "resolve": {"scale": {"y": "independent"}}
},
{
 "width": 148, "height": 149,
 "layer": [
  {"data": {"name": "noisy"}, "transform": [{"filter": {"field": "p", "equal": "D"}}],
   "layer": [
    {"mark": {"type": "line", "strokeWidth": 1, "clip": true},
     "encoding": {"x": {"field": "t", "type": "quantitative", "scale": {"domain": [0, 1000], "nice": false, "zero": false}, "axis": {"values": [0, 200, 400, 600, 800, 1000], "format": "d", "tickCount": 20, "title": "Time (ms)", "offset": 5.5, "labelOverlap": false}},
      "y": {"field": "c", "type": "quantitative", "scale": {"domain": [4.85, 65.27], "nice": false, "zero": false}, "axis": {"orient": "right", "offset": 4.5, "values": [10, 20, 30, 40, 50, 60], "format": "d", "tickCount": 20, "labelOverlap": false, "title": null, "tickSize": 4, "labelPadding": 3, "domainColor": "#e3262b", "tickColor": "#e3262b", "labelColor": "#e3262b"}},
      "color": {"datum": "Control", "scale": {"domain": ["Neuron", "Control", "Pursuit"], "range": ["#ec2227", "#2e3192", "#000000"]}, "legend": {"title": null}}}},
    {"mark": {"type": "line", "strokeWidth": 1, "clip": true},
     "encoding": {"x": {"field": "t", "type": "quantitative"}, "y": {"field": "n", "type": "quantitative"},
      "color": {"datum": "Neuron", "scale": {"domain": ["Neuron", "Control", "Pursuit"], "range": ["#ec2227", "#2e3192", "#000000"]}, "legend": {"title": null}}}}
   ]},
  {"layer": [
    {"data": {"values": [{}]}, "mark": {"type": "rule", "strokeDash": [1.5, 2.5], "strokeWidth": 1.2, "color": "#222"}, "encoding": {"x": {"datum": 200, "type": "quantitative"}}},
    {"data": {"values": [{}]}, "mark": {"type": "rule", "strokeDash": [6, 4], "strokeWidth": 1.2, "color": "#333"}, "encoding": {"x": {"datum": 640, "type": "quantitative"}}},
    {"data": {"values": [{}]}, "mark": {"type": "rule", "strokeDash": [6, 4], "strokeWidth": 1.2, "color": "#333"}, "encoding": {"x": {"datum": 940, "type": "quantitative"}}},
    {"data": {"name": "pursuit"}, "transform": [{"filter": {"field": "p", "equal": "D"}}],
     "mark": {"type": "line", "strokeWidth": 1.3, "clip": true},
     "encoding": {"x": {"field": "t", "type": "quantitative"},
      "y": {"field": "k", "type": "quantitative", "scale": {"domain": [-0.199, 1.211], "nice": false, "zero": false}, "axis": {"orient": "left", "offset": 4, "values": [0, 0.2, 0.4, 0.6, 0.8, 1], "tickCount": 20, "labelOverlap": false, "format": ".1~f", "title": "Normalized eye velocity", "titlePadding": 8, "tickSize": 6, "labelPadding": 5}},
      "color": {"datum": "Pursuit", "scale": {"domain": ["Neuron", "Control", "Pursuit"], "range": ["#ec2227", "#2e3192", "#000000"]}, "legend": {"title": null}}}},
    {"data": {"values": [{}]}, "mark": {"type": "text", "text": "D", "fontSize": 23, "align": "left", "baseline": "alphabetic", "dx": 1, "dy": 18, "color": "#000"}, "encoding": {"x": {"datum": 0, "type": "quantitative"}, "y": {"datum": 1.211, "type": "quantitative"}}},
    {"data": {"values": [{}]}, "mark": {"type": "text", "text": "Population mean", "fontSize": 13.5, "align": "right", "baseline": "alphabetic", "dy": -3, "color": "#000"}, "encoding": {"x": {"datum": 1000, "type": "quantitative"}, "y": {"datum": 1.211, "type": "quantitative"}}}
  ]}
 ],
 "resolve": {"scale": {"y": "independent"}}
},
{
 "width": 148, "height": 149,
 "layer": [
  {"data": {"name": "noisy"}, "transform": [{"filter": {"field": "p", "equal": "E"}}],
   "layer": [
    {"mark": {"type": "line", "strokeWidth": 1, "clip": true},
     "encoding": {"x": {"field": "t", "type": "quantitative", "scale": {"domain": [0, 1000], "nice": false, "zero": false}, "axis": {"values": [0, 200, 400, 600, 800, 1000], "format": "d", "tickCount": 20, "title": "Time (ms)", "offset": 5.5, "labelOverlap": false}},
      "y": {"field": "c", "type": "quantitative", "scale": {"domain": [0.91, 55.09], "nice": false, "zero": false}, "axis": {"orient": "right", "offset": 5, "values": [10, 20, 30, 40, 50], "format": "d", "tickCount": 20, "labelOverlap": false, "title": "Percent correct from neurons", "titleColor": "#e3262b", "titleAngle": 270, "titleBaseline": "top", "titlePadding": 20, "tickSize": 4, "labelPadding": 3, "domainColor": "#e3262b", "tickColor": "#e3262b", "labelColor": "#e3262b"}},
      "color": {"datum": "Control", "scale": {"domain": ["Neuron", "Control", "Pursuit"], "range": ["#ec2227", "#2e3192", "#000000"]}, "legend": {"title": null}}}},
    {"mark": {"type": "line", "strokeWidth": 1, "clip": true},
     "encoding": {"x": {"field": "t", "type": "quantitative"}, "y": {"field": "n", "type": "quantitative"},
      "color": {"datum": "Neuron", "scale": {"domain": ["Neuron", "Control", "Pursuit"], "range": ["#ec2227", "#2e3192", "#000000"]}, "legend": {"title": null}}}}
   ]},
  {"layer": [
    {"data": {"values": [{}]}, "mark": {"type": "rule", "strokeDash": [1.5, 2.5], "strokeWidth": 1.2, "color": "#222"}, "encoding": {"x": {"datum": 200, "type": "quantitative"}}},
    {"data": {"values": [{}]}, "mark": {"type": "rule", "strokeDash": [6, 4], "strokeWidth": 1.2, "color": "#333"}, "encoding": {"x": {"datum": 640, "type": "quantitative"}}},
    {"data": {"values": [{}]}, "mark": {"type": "rule", "strokeDash": [6, 4], "strokeWidth": 1.2, "color": "#333"}, "encoding": {"x": {"datum": 940, "type": "quantitative"}}},
    {"data": {"name": "pursuit"}, "transform": [{"filter": {"field": "p", "equal": "E"}}],
     "mark": {"type": "line", "strokeWidth": 1.3, "clip": true},
     "encoding": {"x": {"field": "t", "type": "quantitative"},
      "y": {"field": "k", "type": "quantitative", "scale": {"domain": [-0.199, 1.211], "nice": false, "zero": false}, "axis": {"orient": "left", "offset": 3, "values": [0, 0.2, 0.4, 0.6, 0.8, 1], "tickCount": 20, "labelOverlap": false, "format": ".1~f", "title": null, "tickSize": 6, "labelPadding": 5}},
      "color": {"datum": "Pursuit", "scale": {"domain": ["Neuron", "Control", "Pursuit"], "range": ["#ec2227", "#2e3192", "#000000"]}, "legend": {"title": null}}}},
    {"data": {"values": [{}]}, "mark": {"type": "text", "text": "E", "fontSize": 23, "align": "left", "baseline": "alphabetic", "dx": 1, "dy": 18, "color": "#000"}, "encoding": {"x": {"datum": 0, "type": "quantitative"}, "y": {"datum": 1.211, "type": "quantitative"}}},
    {"data": {"values": [{}]}, "mark": {"type": "text", "text": "Maximum likelihood", "fontSize": 13.5, "align": "right", "baseline": "alphabetic", "dy": -3, "color": "#000"}, "encoding": {"x": {"datum": 1000, "type": "quantitative"}, "y": {"datum": 1.211, "type": "quantitative"}}}
  ]}
 ],
 "resolve": {"scale": {"y": "independent"}}
}
]
}
